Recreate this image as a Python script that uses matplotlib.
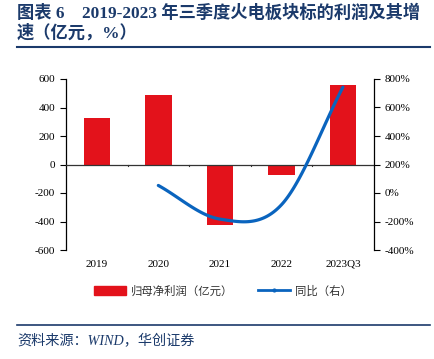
import numpy as np
import matplotlib
matplotlib.use("Agg")
import matplotlib.pyplot as plt
from matplotlib.lines import Line2D
from matplotlib.patches import Patch

categories = ["2019", "2020", "2021", "2022", "2023Q3"]
profit = [323, 487, -423, -72, 559]          # 归母净利润（亿元）
yoy_cats = ["2020", "2021", "2022", "2023Q3"]
yoy = [53, -183, -83, 743]                    # 同比（%）
left_ticks = [600, 400, 200, 0, -200, -400, -600]
right_ticks = [800, 600, 400, 200, 0, -200, -400]

serif_cjk = ["Liberation Serif", "Noto Sans CJK SC"]
sans_cjk = ["Noto Sans CJK SC", "DejaVu Sans"]
navy = "#1B3A6B"
red = "#E3121B"
blue = "#0A64BE"

fig = plt.figure(figsize=(4.35, 3.59), dpi=100)
W, H = 435, 359

ax = fig.add_axes([66 / W, 1 - 250 / H, (373.7 - 66) / W, (250 - 79) / H])
x = np.arange(len(categories))
ax.bar(x, profit, width=0.43, color=red, zorder=2)
ax.set_xlim(-0.5, len(categories) - 0.5)
ax.set_ylim(-600, 600)
ax.set_yticks(left_ticks)
ax.set_yticklabels([str(t) for t in left_ticks], family="Liberation Serif", fontsize=8)
ax.axhline(0, color="#333333", lw=0.9, zorder=3)
ax.set_xticks([])
for s in ["top", "bottom", "right"]:
    ax.spines[s].set_visible(False)
ax.spines["left"].set_linewidth(0.9)
ax.tick_params(axis="y", length=4, width=0.8, pad=4)
# category separators on zero line
for b in np.arange(0.5, len(categories) - 0.5, 1.0):
    ax.plot([b, b], [0, -12], color="#333333", lw=0.8, zorder=3, clip_on=False)
for xi, c in zip(x, categories):
    ax.text(xi, -668, c, ha="center", va="top", family="Liberation Serif", fontsize=8)

ax2 = ax.twinx()
ax2.set_ylim(-400, 800)
ax2.set_yticks(right_ticks)
ax2.set_yticklabels([f"{t}%" for t in right_ticks], family="Liberation Serif", fontsize=8)
for s in ["top", "bottom", "left"]:
    ax2.spines[s].set_visible(False)
ax2.spines["right"].set_linewidth(0.9)
ax2.tick_params(axis="y", length=4, width=0.8, pad=4)

# smooth line (Catmull-Rom through the data points)
px = np.array([categories.index(c) for c in yoy_cats], dtype=float)
py = np.array(yoy, dtype=float)
P = np.column_stack([px, py])
ext = np.vstack([2 * P[0] - P[1], P, 2 * P[-1] - P[-2]])
sx, sy = [], []
for i in range(1, len(ext) - 2):
    p0, p1, p2, p3 = ext[i - 1], ext[i], ext[i + 1], ext[i + 2]
    t = np.linspace(0, 1, 40)[:, None]
    seg = 0.5 * ((2 * p1) + (-p0 + p2) * t + (2 * p0 - 5 * p1 + 4 * p2 - p3) * t ** 2
                 + (-p0 + 3 * p1 - 3 * p2 + p3) * t ** 3)
    sx.extend(seg[:, 0]); sy.extend(seg[:, 1])
ax2.plot(sx, sy, color=blue, lw=2.3, zorder=4, solid_capstyle="round")

# legend
handles = [Patch(facecolor=red, edgecolor=red),
           Line2D([0], [0], color=blue, lw=2, marker="o", markersize=2)]
fig.legend(handles, ["归母净利润（亿元）", "同比（右）"], loc="center",
           bbox_to_anchor=(223 / W, 1 - 291 / H), ncol=2, frameon=False,
           prop={"family": sans_cjk, "size": 8.2}, handlelength=2.8,
           handleheight=0.9, columnspacing=2.2, handletextpad=0.4,
           labelcolor="#333333")

# title
fig.text(17 / W, 1 - 13 / H, "图表 6    2019-2023 年三季度火电板块标的利润及其增",
         family=serif_cjk, weight="bold", fontsize=12.4, color=navy, va="center", ha="left")
fig.text(17 / W, 1 - 33 / H, "速（亿元，%）",
         family=serif_cjk, weight="bold", fontsize=12.4, color=navy, va="center", ha="left")
fig.add_artist(Line2D([17 / W, 430 / W], [1 - 46.5 / H, 1 - 46.5 / H], color=navy, lw=1.5))
fig.add_artist(Line2D([17 / W, 430 / W], [1 - 325 / H, 1 - 325 / H], color=navy, lw=1.2))
fig.text(17 / W, 1 - 341 / H, "资料来源：WIND，华创证券",
         family=serif_cjk, style="italic", fontsize=10.2, color=navy, va="center", ha="left")

fig.savefig("out.png", dpi=100)
